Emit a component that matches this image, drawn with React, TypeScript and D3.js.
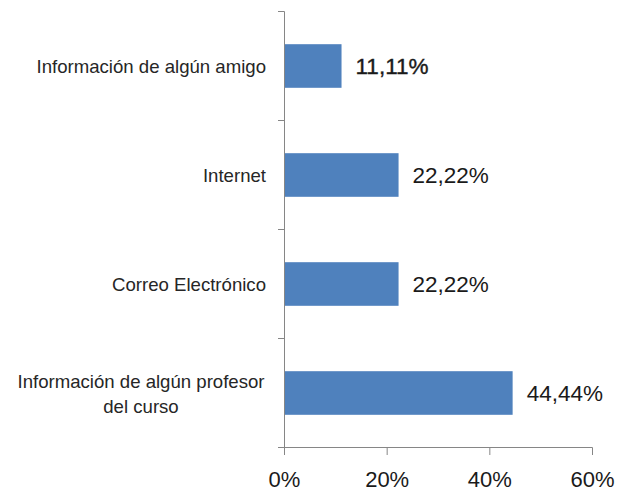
import React from "react";
import * as d3 from "d3";

const categories: string[][] = [
  ["Información de algún amigo"],
  ["Internet"],
  ["Correo Electrónico"],
  ["Información de algún profesor", "del curso"],
];
const values: number[] = [0.1111, 0.2222, 0.2222, 0.4444];
const valueLabels: string[] = ["11,11%", "22,22%", "22,22%", "44,44%"];
const boldLabel: boolean[] = [true, false, false, false];
const xTicks: number[] = [0, 0.2, 0.4, 0.6];

const W = 624;
const H = 495;
const FONT = "'Liberation Sans', Arial, sans-serif";

export default function App() {
  const x = d3.scaleLinear().domain([0, 0.6]).range([284.5, 592.5]);
  const y = d3
    .scaleBand<number>()
    .domain(d3.range(categories.length))
    .range([11.5, 447.5])
    .paddingInner(0.6)
    .paddingOuter(0.3);
  const step = y.step();
  const y0 = 11.5;
  const axisColor = "#868686";
  const bounds = d3.range(categories.length + 1).map((i) => y0 + i * step);
  const catSize = 18.6;

  return (
    <svg
      width={W}
      height={H}
      style={{ position: "absolute", left: 0, top: 0, background: "#fff" }}
    >
      {values.map((v, i) => (
        <rect
          key={i}
          x={x(0)}
          y={y(i)!}
          width={x(v) - x(0)}
          height={y.bandwidth()}
          fill="#4f81bd"
        />
      ))}
      <line x1={x(0)} x2={x(0)} y1={y0} y2={447.5} stroke={axisColor} strokeWidth={1} />
      {bounds.map((b, i) => (
        <line key={i} x1={278} x2={x(0)} y1={b} y2={b} stroke={axisColor} strokeWidth={1} />
      ))}
      <line x1={278} x2={x(0.6)} y1={447.5} y2={447.5} stroke={axisColor} strokeWidth={1} />
      {xTicks.map((t, i) => (
        <g key={i}>
          <line x1={x(t)} x2={x(t)} y1={447.5} y2={455} stroke={axisColor} strokeWidth={1} />
          <text
            x={x(t)}
            y={487}
            textAnchor="middle"
            fontFamily={FONT}
            fontSize={22}
            fill="#1a1a1a"
          >
            {d3.format(".0%")(t)}
          </text>
        </g>
      ))}
      {categories.map((lines, i) => {
        const cy = y(i)! + y.bandwidth() / 2;
        if (lines.length === 1) {
          return (
            <text
              key={i}
              x={266}
              y={cy}
              textAnchor="end"
              dominantBaseline="central"
              fontFamily={FONT}
              fontSize={catSize}
              fill="#262626"
            >
              {lines[0]}
            </text>
          );
        }
        const lh = 25;
        const start = cy - ((lines.length - 1) * lh) / 2;
        return (
          <text
            key={i}
            textAnchor="middle"
            fontFamily={FONT}
            fontSize={catSize}
            fill="#262626"
            dominantBaseline="central"
          >
            {lines.map((l, j) => (
              <tspan key={j} x={141} y={start + j * lh}>
                {l}
              </tspan>
            ))}
          </text>
        );
      })}
      {values.map((v, i) => (
        <text
          key={i}
          x={x(v) + 14}
          y={y(i)! + y.bandwidth() / 2}
          dominantBaseline="central"
          fontFamily={FONT}
          fontSize={22.5}
          stroke={boldLabel[i] ? "#1a1a1a" : "none"}
          strokeWidth={boldLabel[i] ? 0.4 : 0}
          fill="#1a1a1a"
        >
          {valueLabels[i]}
        </text>
      ))}
    </svg>
  );
}
